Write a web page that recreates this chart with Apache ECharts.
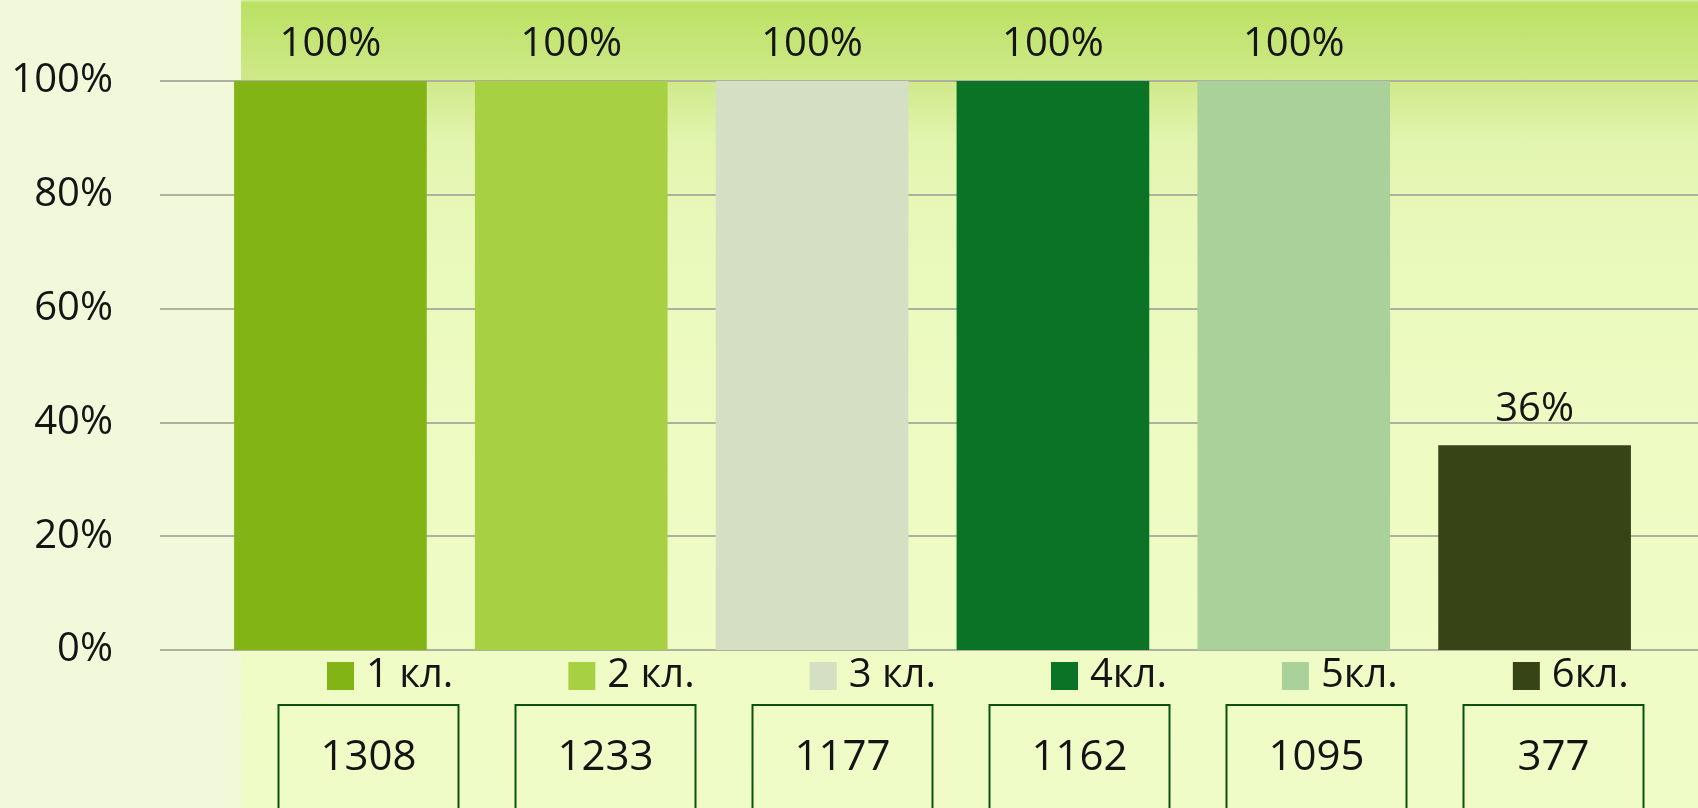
<!DOCTYPE html>
<html>
<head>
<meta charset="utf-8">
<script src="https://cdn.jsdelivr.net/npm/echarts@6/dist/echarts.min.js"></script>
<style>
  html, body { margin: 0; padding: 0; }
  #chart-box {
    width: 1698px;
    height: 808px;
    background:
      linear-gradient(90deg, #f1f9da 0, #f1f9da 241px, transparent 241px),
      linear-gradient(180deg, #d8eea0 0px, #bbe163 3px, #cfe98a 81px, #e2f5ae 140px, #e8f8b9 220px, #edfbc2 400px, #f0fcc7 808px);
  }
</style>
</head>
<body>
<div id="chart-box"></div>
<script>
  // данные
  const classes = ['1 кл.', '2 кл.', '3 кл.', '4кл.', '5кл.', '6кл.'];
  const percents = [100, 100, 100, 100, 100, 36];
  const pupils = [1308, 1233, 1177, 1162, 1095, 377];
  const yTicks = [0, 20, 40, 60, 80, 100];

  const palette = ['#82b415', '#a7d042', '#d5dfc3', '#0b7326', '#a9d199', '#364416'];
  const font = '"Open Sans", "Noto Sans", sans-serif';

  let myEchart = echarts.init(document.getElementById('chart-box'));

  const barSeries = classes.map((name, i) => ({
    type: 'bar',
    name: name,
    stack: 'all',
    xAxisIndex: 1,
    yAxisIndex: 1,
    barWidth: '80%',
    itemStyle: { color: palette[i] },
    label: {
      show: true,
      position: 'top',
      distance: 16,
      formatter: '{c}%',
      fontFamily: font,
      fontSize: 40,
      color: '#141414'
    },
    data: percents.map((v, j) => (j === i ? v : null))
  }));

  let optionData = {
    animation: false,
    grid: [
      { left: 160, right: 0, top: 81, bottom: 158, outerBoundsMode: 'none' },
      { left: 210, width: 1445, top: 81, bottom: 158, outerBoundsMode: 'none' },
      { left: 250, width: 1422, top: 81, bottom: 158, outerBoundsMode: 'none' }
    ],
    legend: {
      left: 322,
      top: 651,
      icon: 'rect',
      itemWidth: 27,
      itemHeight: 28,
      itemGap: 115,
      data: classes,
      textStyle: {
        fontFamily: font,
        fontSize: 40,
        color: '#141414',
        padding: [0, 0, 0, 7]
      }
    },
    xAxis: [
      { gridIndex: 0, type: 'value', show: false },
      {
        gridIndex: 1,
        type: 'category',
        data: classes,
        axisLine: { show: false },
        axisTick: { show: false },
        axisLabel: { show: false }
      },
      {
        gridIndex: 2,
        type: 'category',
        data: pupils,
        position: 'bottom',
        axisLine: { show: false },
        axisTick: { show: false },
        axisLabel: {
          interval: 0,
          margin: 55,
          fontFamily: font,
          fontSize: 42,
          color: '#141414',
          width: 180,
          height: 106,
          lineHeight: 106,
          align: 'center',
          borderColor: '#0b5210',
          borderWidth: 2,
          padding: 0
        }
      }
    ],
    yAxis: [
      {
        gridIndex: 0,
        type: 'value',
        min: yTicks[0],
        max: yTicks[yTicks.length - 1],
        interval: 20,
        axisLine: { show: false },
        axisTick: { show: false },
        axisLabel: {
          margin: 47,
          formatter: '{value}%',
          fontFamily: font,
          fontSize: 40,
          color: '#141414'
        },
        splitLine: { lineStyle: { color: '#adb19e', width: 2 } }
      },
      { gridIndex: 1, type: 'value', min: 0, max: 100, show: false },
      { gridIndex: 2, type: 'value', min: 0, max: 100, show: false }
    ],
    series: barSeries
  };

  myEchart.setOption(optionData);
</script>
</body>
</html>
